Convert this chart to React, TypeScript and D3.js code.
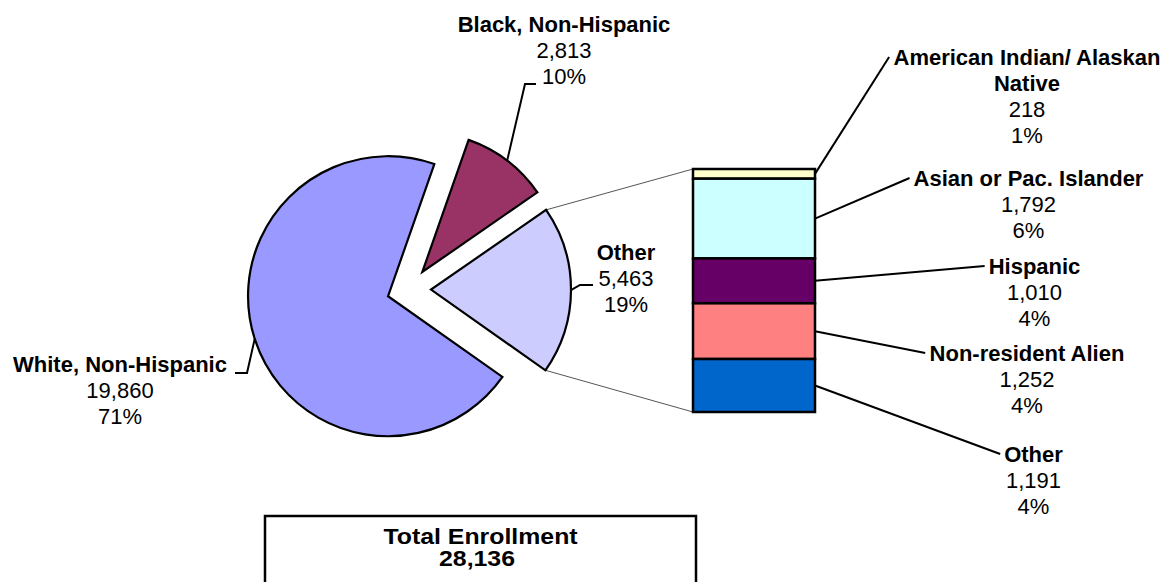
import React from "react";
import * as d3 from "d3";

// ---- Data ----
const pieLabels = ["Black, Non-Hispanic", "Other", "White, Non-Hispanic"];
const pieValues = [2813, 5463, 19860];
const piePercents = ["10%", "19%", "71%"];
const pieColors = ["#993366", "#CCCCFF", "#9999FF"];

const barLabels = [
  ["American Indian/ Alaskan", "Native"],
  ["Asian or Pac. Islander"],
  ["Hispanic"],
  ["Non-resident Alien"],
  ["Other"],
];
const barValues = [218, 1792, 1010, 1252, 1191];
const barPercents = ["1%", "6%", "4%", "4%", "4%"];
const barColors = ["#FFFFCC", "#CCFFFF", "#660066", "#FF8080", "#0066CC"];

const totalLabel = "Total Enrollment";
const totalValue = 28136;

// ---- Layout ----
const W = 1167;
const H = 582;
const FONT = "'Liberation Sans', Arial, sans-serif";
const FS = 22;
const LH = 26;
const cx = 409;
const cy = 289.5;
const R = 140;
const EXPLODE = 22;
const START = (19.3 * Math.PI) / 180;

const bar = { x0: 693, x1: 815, y0: 169, y1: 412 };

// label anchor (center x, first baseline) for pie labels + leader elbow/end
const pieLabelPos = [
  { x: 564, y: 32, elbow: [525, 84], end: [536, 84] },
  { x: 626, y: 260, elbow: [580, 285], end: [593, 285] },
  { x: 120, y: 372, elbow: [247, 373], end: [235, 373] },
];
// label anchor for bar labels
const barLabelPos = [
  { x: 1027, y: 65 },
  { x: 1028.5, y: 186 },
  { x: 1034.5, y: 274 },
  { x: 1027, y: 361 },
  { x: 1033.5, y: 462 },
];

const fmt = d3.format(",");

let ctx: CanvasRenderingContext2D | null = null;
function textWidth(s: string) {
  if (!ctx) ctx = document.createElement("canvas").getContext("2d");
  if (!ctx) return s.length * 12;
  ctx.font = `bold ${FS}px 'Liberation Sans', Arial, sans-serif`;
  return ctx.measureText(s).width;
}

export default function App() {
  const pie = d3
    .pie<number>()
    .sort(null)
    .value((d) => d)
    .startAngle(START)
    .endAngle(START + 2 * Math.PI);
  const arcs = pie(pieValues);
  const arcGen = d3.arc<d3.PieArcDatum<number>>().innerRadius(0).outerRadius(R);

  const pt = (a: number, r: number, ox: number, oy: number): [number, number] => [
    ox + r * Math.sin(a),
    oy - r * Math.cos(a),
  ];

  const sliceOrigin = arcs.map((a) => {
    const mid = (a.startAngle + a.endAngle) / 2;
    return pt(mid, EXPLODE, cx, cy);
  });

  const otherIdx = 1;
  const oArc = arcs[otherIdx];
  const oO = sliceOrigin[otherIdx];
  const oTop = pt(oArc.startAngle, R, oO[0], oO[1]);
  const oBot = pt(oArc.endAngle, R, oO[0], oO[1]);

  const barSum = d3.sum(barValues);
  const y = d3.scaleLinear().domain([0, barSum]).range([bar.y0, bar.y1]);
  const cum: number[] = [];
  barValues.reduce((acc, v) => {
    cum.push(acc);
    return acc + v;
  }, 0);

  return (
    <svg
      width={W}
      height={H}
      style={{ position: "absolute", left: 0, top: 0, background: "#fff" }}
      fontFamily={FONT}
      fontSize={FS}
    >
      {/* connector lines */}
      <line x1={oTop[0]} y1={oTop[1]} x2={bar.x0} y2={bar.y0} stroke="#555" strokeWidth={1} />
      <line x1={oBot[0]} y1={oBot[1]} x2={bar.x0} y2={bar.y1} stroke="#555" strokeWidth={1} />

      {/* pie slices */}
      {arcs.map((a, i) => (
        <path
          key={i}
          d={arcGen(a) || ""}
          transform={`translate(${sliceOrigin[i][0]},${sliceOrigin[i][1]})`}
          fill={pieColors[i]}
          stroke="#000"
          strokeWidth={2.2}
          strokeLinejoin="miter"
        />
      ))}

      {/* pie leaders and labels */}
      {arcs.map((a, i) => {
        const mid = (a.startAngle + a.endAngle) / 2;
        const s = pt(mid, R, sliceOrigin[i][0], sliceOrigin[i][1]);
        const p = pieLabelPos[i];
        return (
          <g key={i}>
            <polyline
              points={`${s[0]},${s[1]} ${p.elbow[0]},${p.elbow[1]} ${p.end[0]},${p.end[1]}`}
              fill="none"
              stroke="#000"
              strokeWidth={2}
            />
            <text x={p.x} y={p.y} textAnchor="middle" fontWeight="bold">
              {pieLabels[i]}
            </text>
            <text x={p.x} y={p.y + LH} textAnchor="middle">
              {fmt(pieValues[i])}
            </text>
            <text x={p.x} y={p.y + 2 * LH} textAnchor="middle">
              {piePercents[i]}
            </text>
          </g>
        );
      })}

      {/* bar segments */}
      {barValues.map((v, i) => (
        <rect
          key={i}
          x={bar.x0}
          y={y(cum[i])}
          width={bar.x1 - bar.x0}
          height={y(cum[i] + v) - y(cum[i])}
          fill={barColors[i]}
          stroke="#000"
          strokeWidth={2.5}
        />
      ))}

      {/* bar leaders and labels */}
      {barValues.map((v, i) => {
        const p = barLabelPos[i];
        const midY = (y(cum[i]) + y(cum[i] + v)) / 2;
        const first = barLabels[i][0];
        const endX = p.x - textWidth(first) / 2 - 4;
        const endY = p.y - 8;
        const lines = [...barLabels[i]];
        return (
          <g key={i}>
            <line x1={bar.x1} y1={midY} x2={endX} y2={endY} stroke="#000" strokeWidth={2} />
            {lines.map((l, j) => (
              <text key={j} x={p.x} y={p.y + j * LH} textAnchor="middle" fontWeight="bold">
                {l}
              </text>
            ))}
            <text x={p.x} y={p.y + lines.length * LH} textAnchor="middle">
              {fmt(v)}
            </text>
            <text x={p.x} y={p.y + (lines.length + 1) * LH} textAnchor="middle">
              {barPercents[i]}
            </text>
          </g>
        );
      })}

      {/* total box */}
      <rect x={265} y={516} width={431} height={80} fill="#fff" stroke="#000" strokeWidth={2.5} />
      <text transform="translate(480.5,543.5) scale(1.13,1)" textAnchor="middle" fontWeight="bold">
        {totalLabel}
      </text>
      <text transform="translate(477,565.5) scale(1.13,1)" textAnchor="middle" fontWeight="bold">
        {fmt(totalValue)}
      </text>
    </svg>
  );
}
